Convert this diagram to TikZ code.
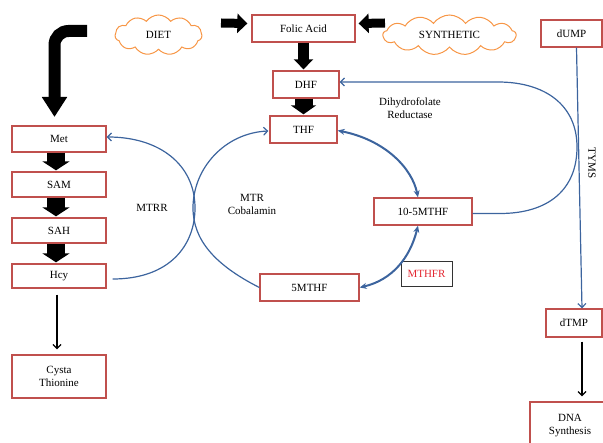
\documentclass[tikz,border=0pt]{standalone}
\usepackage{fontspec}
\setmainfont{Liberation Serif}
\usetikzlibrary{arrows.meta,shapes.symbols}
\definecolor{boxred}{RGB}{192,80,77}
\definecolor{cloudor}{RGB}{247,150,70}
\definecolor{bline}{RGB}{60,100,158}
\definecolor{txtred}{RGB}{228,40,50}
\newcommand{\lbl}{\fontsize{11}{13}\selectfont}
\begin{document}
\begin{tikzpicture}[x=1pt,y=-1pt,
  box/.style={draw=boxred, line width=1.3pt, fill=white, inner sep=0pt, font=\lbl, align=center},
  cloudnode/.style={cloud, cloud puff arc=110, cloud ignores aspect, draw=cloudor, line width=1pt, inner sep=0pt, font=\lbl},
  bl/.style={draw=bline, line width=1.2pt},
  blthick/.style={draw=bline, line width=2pt},
  vtip/.style={-{Straight Barb[length=4pt,width=8pt]}},
  blk/.style={line width=#1, draw=black},
  thinarrow/.style={draw=black, line width=1.2pt, -{Straight Barb[length=4pt,width=8pt]}},
  plain/.style={font=\lbl, align=center, inner sep=0pt}
]
\useasboundingbox (0,0) rectangle (603,443);

% boxes
\node[box, minimum width=103pt, minimum height=27pt] (folic) at (303.5,28.5) {Folic Acid};
\node[box, minimum width=66pt, minimum height=27pt] (dhf) at (306,84.5) {DHF};
\node[box, minimum width=67pt, minimum height=27pt] (thf) at (303.5,129.5) {THF};
\node[box, minimum width=94pt, minimum height=26pt] (met) at (59,139) {Met};
\node[box, minimum width=94pt, minimum height=25pt] (sam) at (59,184.5) {SAM};
\node[box, minimum width=94pt, minimum height=25pt] (sah) at (59,230.5) {SAH};
\node[box, minimum width=94pt, minimum height=24pt] (hcy) at (59,276) {Hcy};
\node[box, minimum width=94pt, minimum height=43pt] (cysta) at (59,376.5) {Cysta\\Thionine};
\node[box, minimum width=98pt, minimum height=27pt] (tenfive) at (423,211.5) {10-5MTHF};
\node[box, minimum width=99pt, minimum height=27pt] (fivem) at (309.5,287.5) {5MTHF};
\node[draw=black!80, line width=0.8pt, minimum width=51pt, minimum height=25pt, inner sep=0pt, font=\lbl, text=txtred] (mthfr) at (426.5,273.5) {MTHFR};
\node[box, minimum width=61pt, minimum height=27pt] (dump) at (571.5,33.5) {dUMP};
\node[box, minimum width=56pt, minimum height=28pt] (dtmp) at (574,323) {dTMP};
\node[box, minimum width=80pt, minimum height=48pt] (dna) at (570,426) {DNA\\Synthesis};

% clouds
\node[cloudnode, cloud puffs=11, minimum width=87pt, minimum height=40pt] (diet) at (158.5,35) {DIET};
\node[cloudnode, cloud puffs=13, minimum width=133pt, minimum height=40pt] (synth) at (449.5,35) {SYNTHETIC};

% labels
\node[plain] (dhr) at (410,108) {Dihydrofolate\\Reductase};
\node[plain] (mtrr) at (152,208) {MTRR};
\node[plain] (mtr) at (252,204) {MTR\\Cobalamin};
\node[plain, rotate=-90] (tyms) at (592,163) {TYMS};

% block arrows
\coordinate (lstart) at (87,31);
\draw[blk=12pt, rounded corners=14pt, -{Triangle[length=20pt,width=24pt]}] (lstart) -| (54.5,117);
\coordinate (dietarr) at (221,23);
\draw[blk=9pt, -{Triangle[length=10pt,width=19pt]}] (dietarr) -- ([xshift=-4pt,yshift=5pt]folic.west);
\coordinate (synarr) at (385,23);
\draw[blk=9pt, -{Triangle[length=10pt,width=19pt]}] (synarr) -- ([xshift=3pt,yshift=5pt]folic.east);
\draw[blk=11pt, -{Triangle[length=10pt,width=19pt]}] (folic.south) -- ([yshift=1pt]folic.south |- dhf.north);
\draw[blk=18pt, -{Triangle[length=9pt,width=25pt]}] (thf.north |- dhf.south) -- ([yshift=1pt]thf.north);
\draw[blk=18pt, -{Triangle[length=9pt,width=27pt]}] ([xshift=-3pt]met.south) -- ([xshift=-3pt,yshift=1pt]sam.north);
\draw[blk=18pt, -{Triangle[length=9pt,width=27pt]}] ([xshift=-3pt]sam.south) -- ([xshift=-3pt,yshift=1pt]sah.north);
\draw[blk=18pt, -{Triangle[length=9pt,width=27pt]}] ([xshift=-3pt]sah.south) -- ([xshift=-3pt,yshift=1pt]hcy.north);

% thin black arrows
\draw[thinarrow] ([xshift=-2pt,yshift=-6pt]hcy.south) -- ([xshift=-2pt,yshift=5pt]cysta.north);
\draw[thinarrow] ([xshift=8pt,yshift=-4pt]dtmp.south) -- ([xshift=12pt,yshift=5pt]dna.north);

% blue curves
\draw[bl, vtip] ([xshift=6pt,yshift=-3pt]hcy.east) .. controls (170,279) and (195,245) .. (195,208) .. controls (195,165) and (160,137) .. ([yshift=2pt]met.east);
\draw[bl, vtip] (fivem.west) .. controls (215,265) and (193,240) .. (193,208) .. controls (193,168) and (225,133) .. ([xshift=-1pt,yshift=-1.5pt]thf.west);
\draw[blthick, {Stealth[length=7pt,width=6pt]}-{Stealth[length=7pt,width=6pt]}] ([yshift=-1pt]thf.east) .. controls (385,140) and (412,168) .. ([xshift=-5pt]tenfive.north);
\draw[blthick, {Stealth[length=7pt,width=6pt]}-{Stealth[length=7pt,width=6pt]}] ([xshift=-5pt]tenfive.south) .. controls (410,258) and (392,280) .. (fivem.east);
\draw[bl, vtip] ([yshift=-2pt]tenfive.east) -- (500,213.5) .. controls (548,213.5) and (577,190) .. (577,147) .. controls (577,105) and (545,82) .. (498,82) -- ([yshift=2.5pt]dhf.east);
\draw[bl, vtip] ([xshift=5pt]dump.south) -- ([xshift=8pt]dtmp.north);
\end{tikzpicture}
\end{document}
